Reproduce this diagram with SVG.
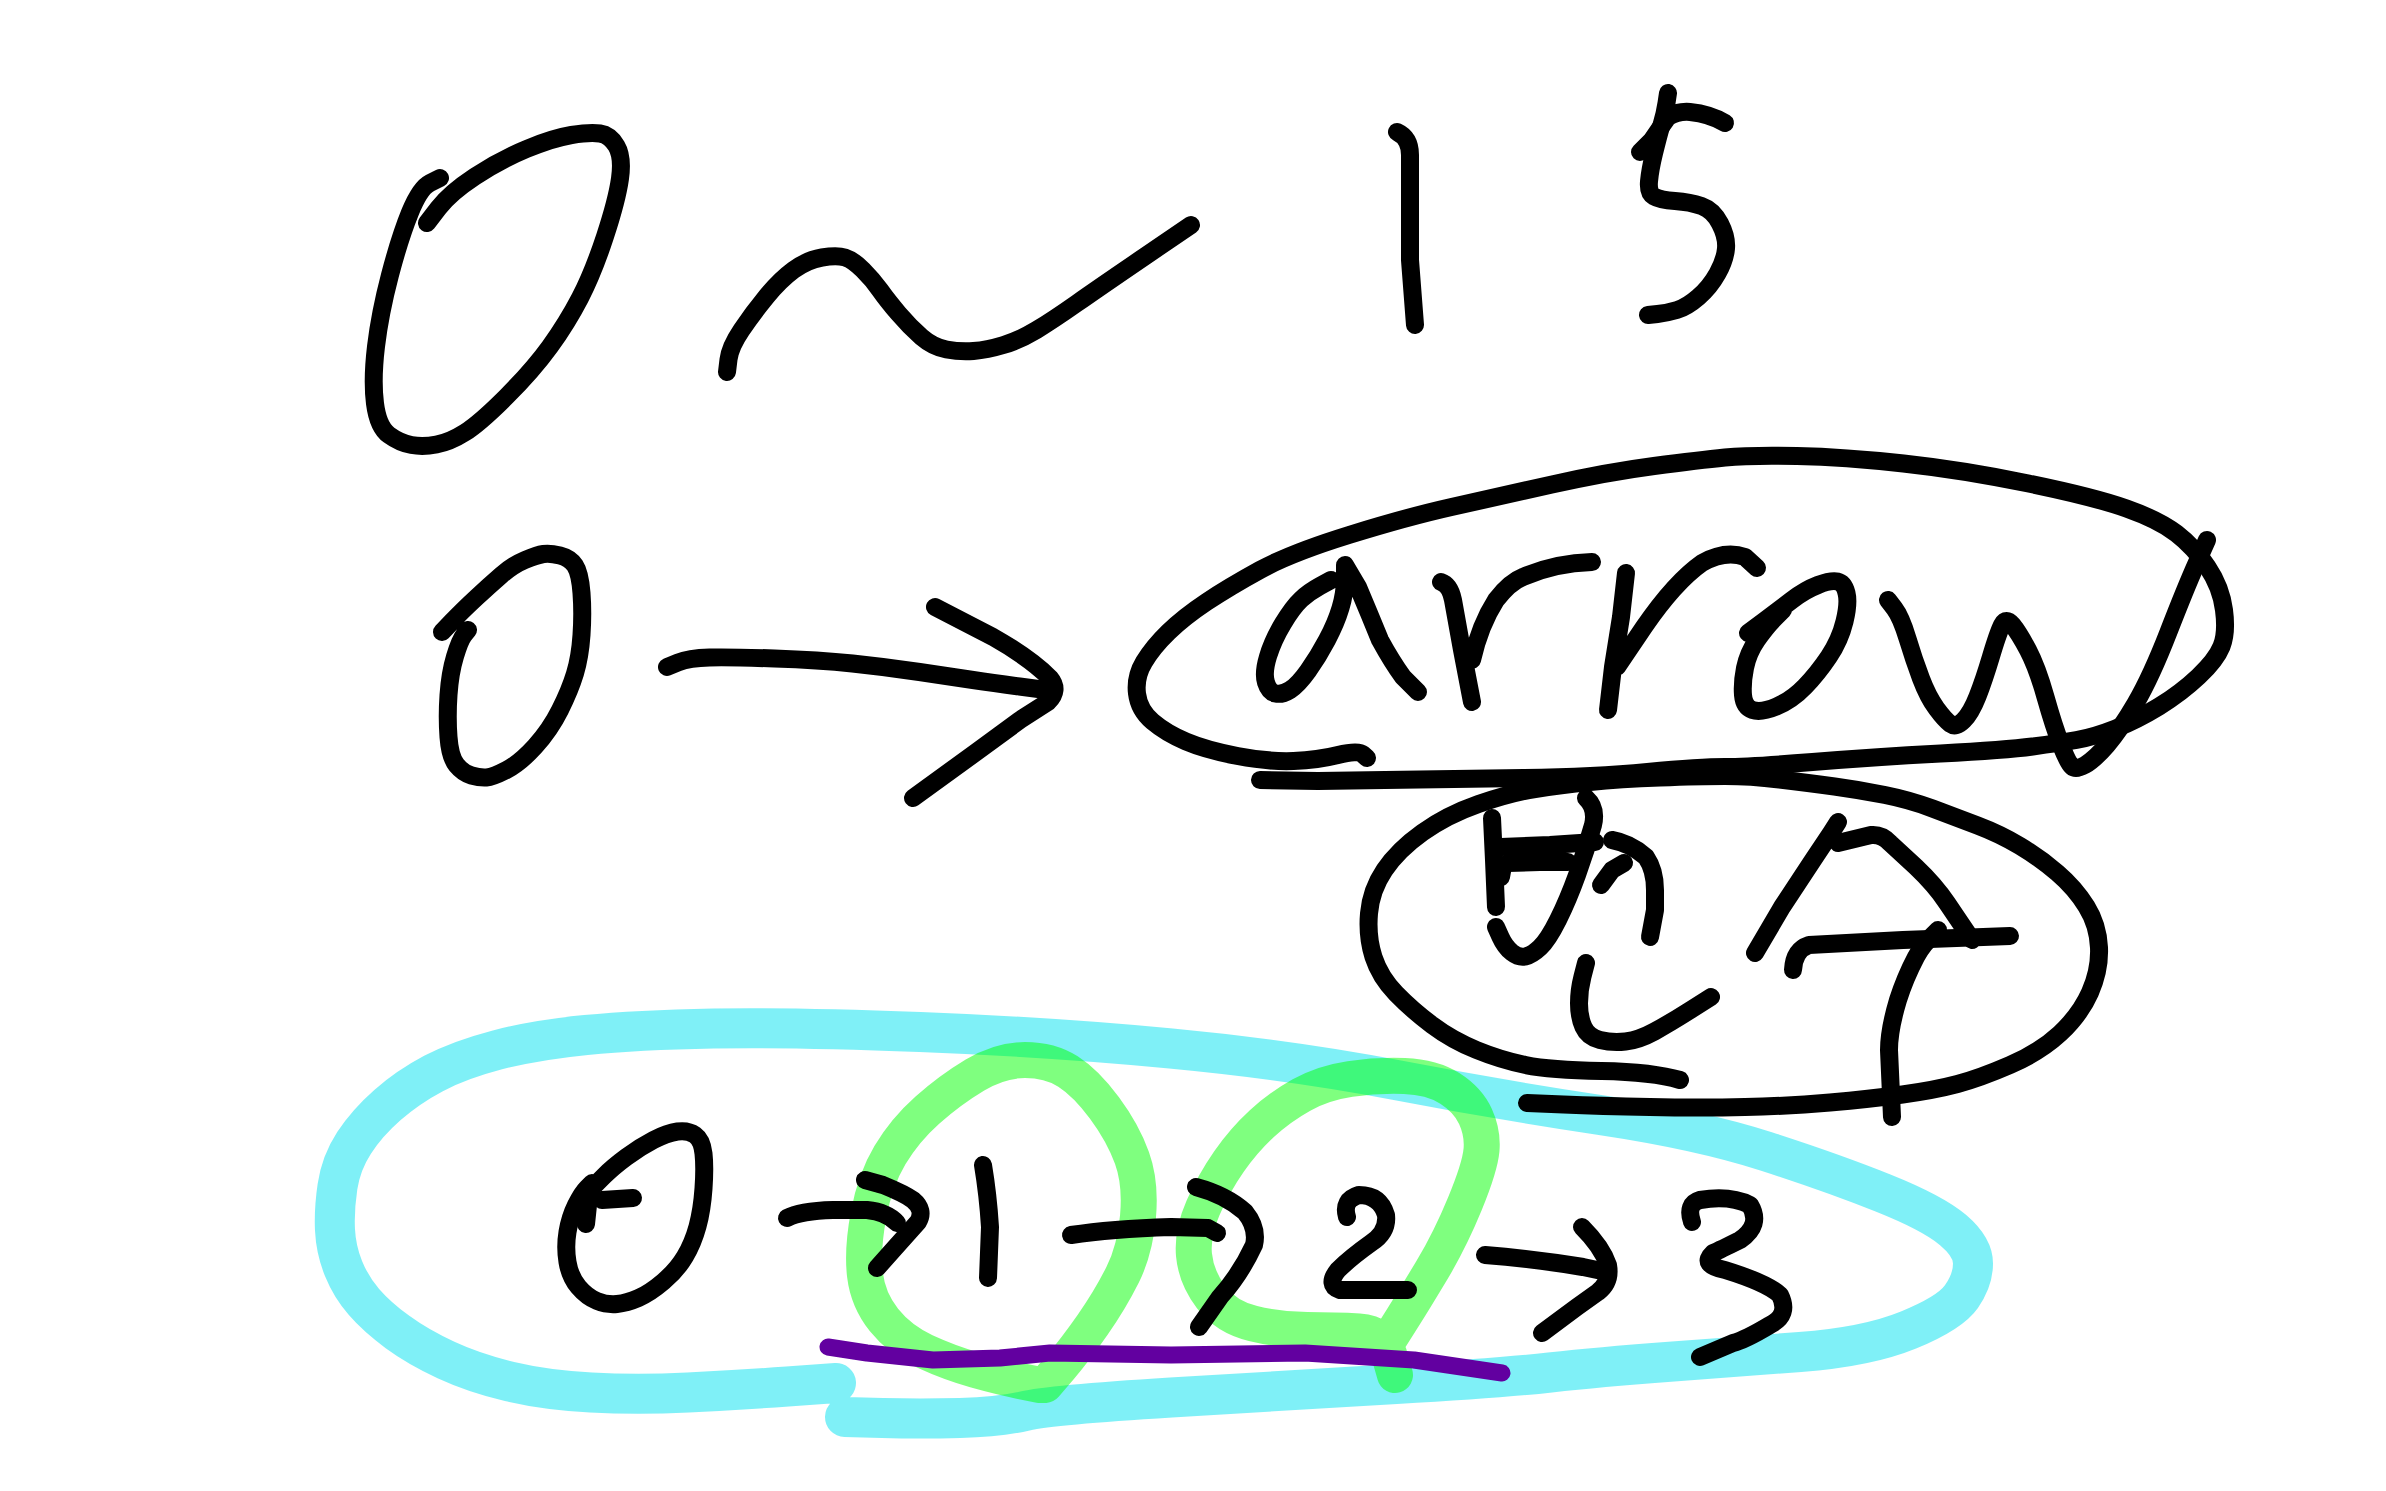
<svg xmlns="http://www.w3.org/2000/svg" width="2386" height="1491" viewBox="0 0 2386 1491">
<style>
.ink{fill:none;stroke:#000;stroke-width:18;stroke-linecap:round;stroke-linejoin:round}
.cyan{fill:none;stroke:#00E1F0;stroke-opacity:0.5;stroke-width:40;stroke-linecap:round;stroke-linejoin:round}
.green{fill:none;stroke:#00FF00;stroke-opacity:0.5;stroke-width:36;stroke-linecap:round;stroke-linejoin:round}
.purple{fill:none;stroke:#6200A0;stroke-width:17;stroke-linecap:round;stroke-linejoin:round}
</style>
<rect width="2386" height="1491" fill="#fff"/>
<g id="highlights">
<path class="cyan" d="M845,1417 L882.5,1418 Q920,1419 960,1418 Q1000,1417 1025,1411 Q1050,1405 1171,1397.5 Q1292,1390 1396,1384 Q1500,1378 1550,1372.5 Q1600,1367 1666.5,1362 Q1733,1357 1800,1352 Q1867,1347 1908.5,1330 Q1950,1313 1961.5,1296.5 Q1973,1280 1973,1263.5 Q1973,1247 1953,1230 Q1933,1213 1883,1193 Q1833,1173 1766.5,1151.5 Q1700,1130 1600,1115 Q1500,1100 1396,1080 Q1292,1060 1171,1048.5 Q1050,1037 920,1032 Q790,1027 713.5,1028.5 Q637,1030 586,1035 Q535,1040 497,1050 Q459,1060 433.5,1073.5 Q408,1087 387.5,1105 Q367,1123 354,1143 Q341,1163 337.5,1186.5 Q334,1210 335,1230 Q336,1250 343.5,1268.5 Q351,1287 364,1302 Q377,1317 397.5,1332 Q418,1347 446,1360 Q474,1373 509.5,1381.5 Q545,1390 591,1392.5 Q637,1395 688,1392.5 Q739,1390 787.5,1386.5 L836,1383"/>
<path class="green" d="M1045,1385 L1060,1367.5 Q1075,1350 1092.5,1325 Q1110,1300 1122.5,1275 Q1135,1250 1138,1216.5 Q1141,1183 1132,1158 Q1123,1133 1104.5,1108 Q1086,1083 1068,1071.5 Q1050,1060 1025,1060 Q1000,1060 975,1075 Q950,1090 927.5,1110 Q905,1130 890,1155 Q875,1180 868.5,1215 Q862,1250 865,1275 Q868,1300 884,1320 Q900,1340 925,1351.5 Q950,1363 975,1370 Q1000,1377 1020,1381 L1040,1385"/>
<path class="green" d="M1395,1375 L1389,1354 Q1383,1333 1359,1331.5 Q1335,1330 1307.5,1330 Q1280,1330 1253,1323.5 Q1226,1317 1211,1297 Q1196,1277 1194,1255 Q1192,1233 1203,1208 Q1214,1183 1229,1161.5 Q1244,1140 1262,1123.5 Q1280,1107 1301.5,1095 Q1323,1083 1350,1079 Q1377,1075 1404.5,1076 Q1432,1077 1450,1088.5 Q1468,1100 1475.5,1116.5 Q1483,1133 1481.5,1150 Q1480,1167 1465,1203.5 Q1450,1240 1432,1270 Q1414,1300 1402,1319 L1390,1338"/>
</g>
<g id="range-0-15">
<path class="ink" d="M440,178 L430,183 Q420,188 410,212.5 Q400,237 390,275 Q380,313 376,346.5 Q372,380 375,403.5 Q378,427 389,435 Q400,443 411.5,445 Q423,447 436.5,444.5 Q450,442 465,432.5 Q480,423 506.5,396.5 Q533,370 550,346.5 Q567,323 580,298 Q593,273 605,236.5 Q617,200 620,178.5 Q623,157 616.5,146 Q610,135 600,133.5 Q590,132 571.5,135 Q553,138 526.5,149 Q500,160 475,176.5 Q450,193 438.5,208 L427,223"/>
<path class="ink" d="M727,372 L728.5,359.5 Q730,347 741.5,330 Q753,313 766.5,296.5 Q780,280 793.5,270 Q807,260 822,257.5 Q837,255 845,257.5 Q853,260 863,270 Q873,280 880,290 Q887,300 898.5,313.5 Q910,327 921.5,337 Q933,347 946.5,349.5 Q960,352 973.5,351 Q987,350 1003.5,345 Q1020,340 1036.5,330 Q1053,320 1076.5,303.5 Q1100,287 1145.5,256 L1191,225"/>
<path class="ink" d="M1397,132 Q1410,138 1410,155 L1410,260 L1415,325"/>
<path class="ink" d="M1668,93 L1666.5,103 Q1665,113 1661.5,125 Q1658,137 1654,153.5 Q1650,170 1649,181.5 Q1648,193 1654,196.5 Q1660,200 1675,201 Q1690,202 1701.5,206 Q1713,210 1720,223.5 Q1727,237 1726,248.5 Q1725,260 1717.5,273.5 Q1710,287 1698.5,297 Q1687,307 1677,310 Q1667,313 1657.5,314 L1648,315"/>
<path class="ink" d="M1640,152 L1652,140 Q1660,128 1668,117 Q1678,111 1690,112 Q1710,114 1725,123"/>
</g>
<g id="zero-arrow">
<path class="ink" d="M442,632 L452.5,621 Q463,610 476.5,597.5 Q490,585 501.5,575 Q513,565 525,560 Q537,555 543.5,554 Q550,553 560,555.5 Q570,558 575,565.5 Q580,573 581.5,593 Q583,613 581.5,635 Q580,657 575,673.5 Q570,690 560,710 Q550,730 535,746.5 Q520,763 506.5,770 Q493,777 486.5,777.5 Q480,778 471.5,775.5 Q463,773 456.5,765 Q450,757 448.5,737 Q447,717 448.5,695 Q450,673 455,656.5 Q460,640 464,635 L468,630"/>
</g>
<g id="arrow-word">
<path class="ink" d="M1367,758 L1362.5,754 Q1358,750 1338,755 Q1318,760 1293.5,761 Q1269,762 1237.5,756 Q1206,750 1186,741.5 Q1166,733 1152.5,721.5 Q1139,710 1137,693.5 Q1135,677 1144,662 Q1153,647 1168.5,632 Q1184,617 1206.5,602 Q1229,587 1260,570 Q1291,553 1349,535 Q1407,517 1451.5,507 Q1496,497 1552,484.5 Q1608,472 1654,466 Q1700,460 1725,457.5 Q1750,455 1797,456 Q1844,457 1903.5,463.5 Q1963,470 2028.5,483.5 Q2094,497 2126.5,508.5 Q2159,520 2176.5,533.5 Q2194,547 2207.5,567 Q2221,587 2224,610 Q2227,633 2221.5,646.5 Q2216,660 2198.5,676.5 Q2181,693 2159,706.5 Q2137,720 2115.5,728.5 Q2094,737 2076.5,740 Q2059,743 2032.5,746.5 Q2006,750 1940.5,753.5 Q1875,757 1812.5,762 Q1750,767 1725,767 Q1700,767 1647.5,772 Q1595,777 1523.5,778 Q1452,779 1385,780 L1318,781 L1260,780"/>
<path class="ink" d="M1331,580 L1320,586 Q1309,592 1301,599.5 Q1293,607 1283,623.5 Q1273,640 1268,656.5 Q1263,673 1266,682.5 Q1269,692 1275.5,693.5 Q1282,695 1290,690 Q1298,685 1308,671 Q1318,657 1327,640 Q1336,623 1340.5,608 Q1345,593 1345,579 L1345,565 L1358,587 Q1369,613 1380,640 Q1392,662 1403,677 L1418,692"/>
<path class="ink" d="M1441,582 Q1450,585 1453,600 L1462,650 L1472,702 M1472,660 Q1480,625 1496,600 Q1510,582 1523,577 Q1555,563 1592,562"/>
<path class="ink" d="M1626,573 L1621,617 L1613,667 L1608,710 M1617,667 L1644,627 Q1675,582 1702,563 Q1725,550 1745,557 L1757,568"/>
<path class="ink" d="M1748,633 L1763.5,621.5 Q1779,610 1792,600 Q1805,590 1818,585 Q1831,580 1837.5,581.5 Q1844,583 1846.5,593 Q1849,603 1844.5,621.5 Q1840,640 1829,656.5 Q1818,673 1805,686.5 Q1792,700 1776.5,706.5 Q1761,713 1752.5,710 Q1744,707 1743,695 Q1742,683 1745,668 Q1748,653 1757,640 Q1766,627 1774.5,618.5 L1783,610"/>
<path class="ink" d="M1888,600 L1894.5,608.5 Q1901,617 1907.5,638.5 Q1914,660 1921,678.5 Q1928,697 1936.5,708.5 Q1945,720 1950.5,724 Q1956,728 1963.5,720.5 Q1971,713 1977.5,696.5 Q1984,680 1991,656.5 Q1998,633 2002,625 Q2006,617 2012.5,625 Q2019,633 2028,650 Q2037,667 2045.5,697 Q2054,727 2061,745 Q2068,763 2072,766.5 Q2076,770 2085,765 Q2094,760 2107,745 Q2120,730 2135.5,703.5 Q2151,677 2168.5,632 Q2186,587 2196.5,563.5 L2207,540"/>
</g>
<g id="japanese-note">
<path class="ink" d="M1527,1103 L1563.5,1104.5 Q1600,1106 1650,1107 Q1700,1108 1745,1107 Q1790,1106 1830,1102.5 Q1870,1099 1902.5,1094.5 Q1935,1090 1957.5,1084 Q1980,1078 2010,1065 Q2040,1052 2060,1033.5 Q2080,1015 2090,992.5 Q2100,970 2099,947.5 Q2098,925 2086.5,906.5 Q2075,888 2057.5,873 Q2040,858 2020,846 Q2000,834 1977.5,825.5 Q1955,817 1932.5,808.5 Q1910,800 1885,795 Q1860,790 1834.5,786.5 Q1809,783 1779.5,779.5 Q1750,776 1725,776 Q1700,776 1660,777.5 Q1620,779 1590,782 Q1560,785 1535,789 Q1510,793 1478.5,804 Q1447,815 1422.5,832.5 Q1398,850 1384.5,870 Q1371,890 1369,913.5 Q1367,937 1373.5,957 Q1380,977 1396,993.5 Q1412,1010 1432,1025 Q1452,1040 1476.5,1050 Q1501,1060 1525.5,1065 Q1550,1070 1601.5,1071 Q1653,1072 1680,1080"/>
<path class="ink" d="M1492,818 L1494,860 L1496,907"/>
<path class="ink" d="M1503,866 L1501,877"/>
<path class="ink" d="M1501,847 L1550,845 L1595,842"/>
<path class="ink" d="M1508,863 L1540,862 L1568,862"/>
<path class="ink" d="M1586,798 Q1597,808 1593,825 Q1586,850 1577,875 Q1568,900 1558,920 Q1548,940 1540,947.5 Q1532,955 1525.5,956.5 Q1519,958 1512,952.5 Q1505,947 1500.5,937 L1496,927"/>
<path class="ink" d="M1612,840 Q1630,843 1646,857 Q1655,870 1655,890 L1655,910 L1650,937"/>
<path class="ink" d="M1601,885 L1612,870 L1624,863"/>
<path class="ink" d="M1586,963 L1582.5,976.5 Q1579,990 1579,1003.5 Q1579,1017 1583.5,1027 Q1588,1037 1600,1040 Q1612,1043 1625.5,1041.5 Q1639,1040 1654.5,1031.5 Q1670,1023 1690.5,1010 L1711,997"/>
<path class="ink" d="M1838,822 L1831,833 L1813,860 L1782,907 L1755,953"/>
<path class="ink" d="M1838,843 L1871,835 Q1882,834 1890,843 L1916,867 Q1935,885 1947,903 L1972,940"/>
<path class="ink" d="M1793,970 Q1794,950 1809,945 L1903,940 L2010,936"/>
<path class="ink" d="M1938,930 Q1922,945 1916,957 Q1905,978 1898,1000 Q1889,1030 1889,1050 L1892,1117"/>
</g>
<g id="sequence">
<path class="ink" d="M595,1185 L604,1176 Q613,1167 626.5,1157 Q640,1147 653.5,1140 Q667,1133 677.5,1131.5 Q688,1130 695,1135 Q702,1140 703.5,1153.5 Q705,1167 703.5,1188.5 Q702,1210 697.5,1226.5 Q693,1243 685,1256.5 Q677,1270 663.5,1281.5 Q650,1293 638.5,1298 Q627,1303 617,1304 Q607,1305 597,1301 Q587,1297 578.5,1287 Q570,1277 567.5,1262 Q565,1247 567.5,1232 Q570,1217 576,1205 Q582,1193 587,1188 L592,1183"/>
<path class="ink" d="M590,1186 L586,1224"/>
<path class="ink" d="M602,1200 L633,1198"/>
<path class="ink" d="M983,1165 Q988,1195 990,1227 L988,1278"/>
<path class="ink" d="M1347,1217 Q1342,1200 1359,1195 Q1380,1195 1386,1215 Q1388,1232 1371,1243 Q1350,1258 1338,1270 Q1326,1285 1340,1290 L1365,1290 L1408,1290"/>
<path class="ink" d="M1692,1222 Q1686,1204 1700,1200 Q1730,1195 1750,1205 Q1762,1225 1740,1240 Q1720,1250 1713,1253 Q1700,1265 1725,1270 Q1767,1283 1780,1295 Q1790,1315 1770,1325 Q1745,1340 1733,1343 L1700,1357"/>
</g>
<g id="connectors">
<path class="ink" d="M667,667 L678,662.5 Q689,658 709.5,657.5 Q730,657 774.5,658.5 Q819,660 852.5,663.5 Q886,667 919.5,672 Q953,677 973,680 Q993,683 1019.5,686.5 L1046,690"/>
<path class="ink" d="M935,607 L993,637 Q1030,658 1050,678 Q1060,690 1048,702 L1020,720 L975,753 L913,798"/>
<path class="ink" d="M787,1218 Q800,1211 833,1210 L867,1210 Q887,1212 897,1223"/>
<path class="ink" d="M865,1180 L883,1185 Q905,1194 913,1200 Q925,1210 918,1222 L893,1250 L877,1268"/>
<path class="ink" d="M1071,1235 Q1111,1229 1171,1227 L1208,1228 L1217,1233"/>
<path class="ink" d="M1196,1187 Q1226,1195 1245,1212 Q1258,1228 1254,1245 Q1240,1275 1220,1297 L1199,1327"/>
<path class="ink" d="M1485,1255 Q1535,1259 1583,1267 L1602,1271"/>
<path class="ink" d="M1582,1227 Q1602,1247 1608,1265 Q1611,1282 1598,1292 L1577,1307 L1542,1333"/>
</g>
<g id="underline">
<path class="purple" d="M828,1347 L867,1353 L933,1360 L1000,1358 L1050,1353 L1171,1355 L1305,1353 L1414,1360 L1502,1373"/>
</g>
</svg>
